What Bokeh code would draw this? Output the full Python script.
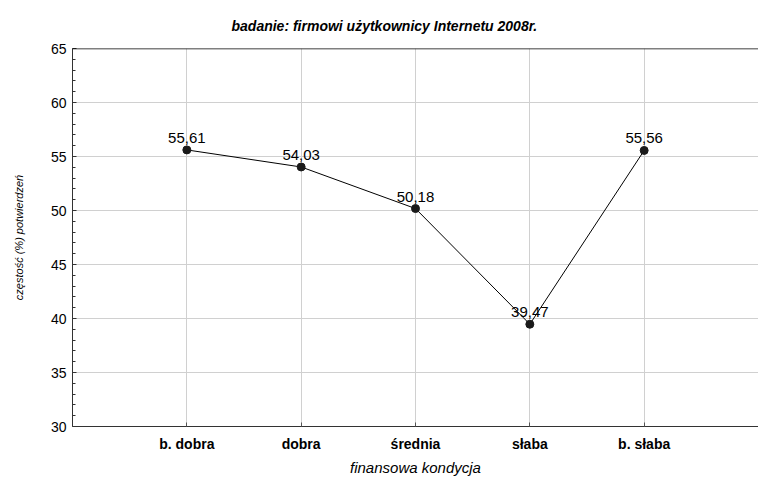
from bokeh.plotting import figure
from bokeh.models import FixedTicker, Span, ColumnDataSource, LabelSet, Range1d
from bokeh.core.properties import value
from bokeh.embed import file_html
from bokeh.resources import INLINE

categories = ["b. dobra", "dobra", "średnia", "słaba", "b. słaba"]
values = [55.61, 54.03, 50.18, 39.47, 55.56]
value_labels = ["55,61", "54,03", "50,18", "39,47", "55,56"]
y_ticks = [30, 35, 40, 45, 50, 55, 60, 65]
title_text = "badanie: firmowi użytkownicy Internetu 2008r."

FONT = "Liberation Sans"

xs = list(range(1, len(categories) + 1))
src = ColumnDataSource(dict(x=xs, y=values, lab=value_labels))

p = figure(width=758, height=478, output_backend="svg", toolbar_location=None,
           x_range=Range1d(0, 6), y_range=Range1d(30, 65),
           min_border_left=72, min_border_right=0, min_border_top=0, min_border_bottom=10)

p.title.text = title_text
p.title.text_font = FONT
p.title.text_font_style = "bold italic"
p.title.text_font_size = "14px"
p.title.text_color = "black"
p.title.align = "left"
p.title.offset = 159
p.title.standoff = 30

p.outline_line_color = None
p.background_fill_color = "white"

p.line("x", "y", source=src, line_color="black", line_width=1)
p.scatter("x", "y", source=src, size=8, fill_color="#1a1a1a", line_color="#1a1a1a")

labels = LabelSet(x="x", y="y", text="lab", source=src, text_align="center",
                  text_baseline="bottom", y_offset=7, text_font=value(FONT),
                  text_font_size="15px", text_color="black")
p.add_layout(labels)

p.add_layout(Span(location=65, dimension="width", line_color="black", line_width=1.5))

p.xaxis.ticker = FixedTicker(ticks=xs)
p.xaxis.major_label_overrides = {x: c for x, c in zip(xs, categories)}
p.xaxis.major_label_text_font = FONT
p.xaxis.major_label_text_font_style = "bold"
p.xaxis.major_label_text_font_size = "14px"
p.xaxis.major_label_text_color = "black"
p.xaxis.major_label_standoff = 9
p.xaxis.axis_label = "finansowa kondycja"
p.xaxis.axis_label_text_font = FONT
p.xaxis.axis_label_text_font_style = "italic"
p.xaxis.axis_label_text_font_size = "15px"
p.xaxis.axis_label_text_color = "black"
p.xaxis.axis_label_standoff = 4
p.xaxis.axis_line_color = "#333333"
p.xaxis.major_tick_in = 4
p.xaxis.major_tick_out = 0
p.xaxis.major_tick_line_color = "#555555"
p.xaxis.minor_tick_line_color = None

p.yaxis.ticker = FixedTicker(ticks=y_ticks, minor_ticks=list(range(30, 66)))
p.yaxis.major_label_text_font = FONT
p.yaxis.major_label_text_font_size = "14px"
p.yaxis.major_label_text_color = "black"
p.yaxis.major_label_standoff = 6
p.yaxis.axis_label = "częstość (%) potwierdzeń"
p.yaxis.axis_label_text_font = FONT
p.yaxis.axis_label_text_font_style = "italic"
p.yaxis.axis_label_text_font_size = "11px"
p.yaxis.axis_label_text_color = "black"
p.yaxis.axis_label_standoff = 23
p.yaxis.axis_line_color = "#333333"
p.yaxis.major_tick_in = 4
p.yaxis.major_tick_out = 0
p.yaxis.minor_tick_in = 3
p.yaxis.minor_tick_out = 0
p.yaxis.major_tick_line_color = "#333333"
p.yaxis.minor_tick_line_color = "#333333"

p.xgrid.ticker = FixedTicker(ticks=xs)
p.ygrid.ticker = FixedTicker(ticks=y_ticks)
p.xgrid.grid_line_color = "#d0d0d0"
p.ygrid.grid_line_color = "#d0d0d0"

open("out.html", "w").write(file_html(p, INLINE))
